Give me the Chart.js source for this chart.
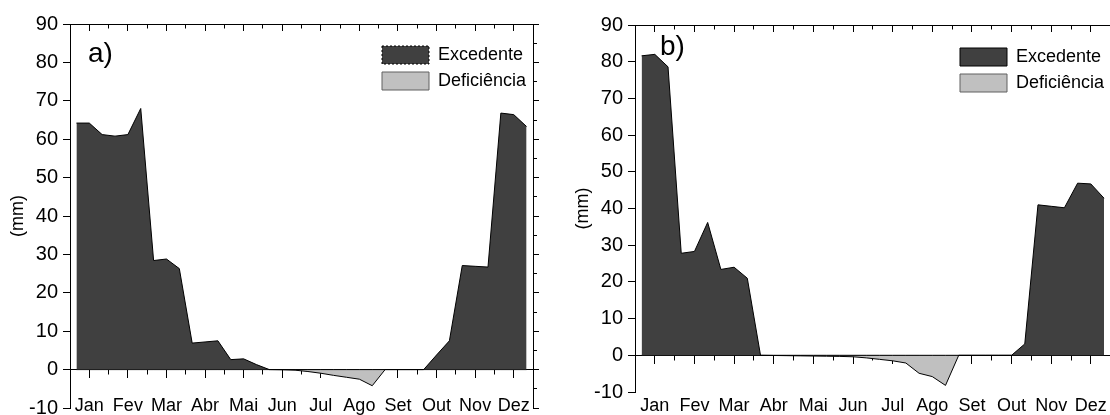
<!DOCTYPE html>
<html>
<head>
<meta charset="utf-8">
<script src="https://cdn.jsdelivr.net/npm/chart.js@4.4.1/dist/chart.umd.min.js"></script>
<style>
  html, body { margin: 0; padding: 0; background: #fff; overflow: hidden; }
  #wrap { position: relative; width: 1110px; height: 415px; overflow: hidden; }
  .panel { position: absolute; top: 0; height: 415px; }
  #pa { left: 0; width: 560px; }
  #pb { left: 560px; width: 580px; }
</style>
</head>
<body>
<div id="wrap">
  <div class="panel" id="pa"><canvas id="chart-a"></canvas></div>
  <div class="panel" id="pb"><canvas id="chart-b"></canvas></div>
</div>
<script>
// months, 3 decendios (10-day periods) each -> 36 points
var MONTHS = ['Jan', 'Fev', 'Mar', 'Abr', 'Mai', 'Jun', 'Jul', 'Ago', 'Set', 'Out', 'Nov', 'Dez'];

// a)
var EXCEDENTE_A = [64.2, 64.2, 61.2, 60.8, 61.2, 68.0, 28.4, 28.8, 26.3, 6.9, 7.2, 7.5,
                   2.6, 2.8, 1.3, 0, 0, 0, 0, 0, 0, 0, 0, 0,
                   0, 0, 0, 0, 3.8, 7.5, 27.1, 26.9, 26.7, 66.8, 66.4, 63.3];
var DEFICIENCIA_A = [0, 0, 0, 0, 0, 0, 0, 0, 0, 0, 0, 0,
                     0, 0, 0, 0, -0.05, -0.15, -0.5, -0.95, -1.5, -2.0, -2.5, -4.2,
                     0, 0, 0, 0, 0, 0, 0, 0, 0, 0, 0, 0];

// b)
var EXCEDENTE_B = [81.6, 82.0, 78.6, 27.8, 28.3, 36.2, 23.4, 24.0, 21.0, 0, 0, 0,
                   0, 0, 0, 0, 0, 0, 0, 0, 0, 0, 0, 0,
                   0, 0, 0, 0, 0, 3.1, 41.0, 40.6, 40.2, 46.9, 46.7, 42.8];
var DEFICIENCIA_B = [0, 0, 0, 0, 0, 0, 0, 0, 0, 0, -0.05, -0.1,
                     -0.15, -0.2, -0.25, -0.3, -0.4, -0.7, -1.1, -1.5, -2.1, -4.9, -5.8, -8.2,
                     0, 0, 0, 0, 0, 0, 0, 0, 0, 0, 0, 0];

var Y_MIN = -10, Y_MAX = 90;

Chart.defaults.font.family = '"Liberation Sans", Arial, Helvetica, sans-serif';
Chart.defaults.color = '#000';

function toPoints(arr) {
  return arr.map(function (v, i) { return { x: i, y: v }; });
}

// month ticks at the middle decendio, minor ticks between months
function monthTicks(scale) {
  var t = [];
  for (var i = 0; i < 12; i++) {
    t.push({ value: 3 * i + 1 });
    if (i < 11) t.push({ value: 3 * i + 2.5 });
  }
  scale.ticks = t;
}
function isMajorX(v) { return (v - 1) % 3 === 0; }

// put the "a)" / "b)" tag inside the plot
var panelLabel = {
  id: 'panelLabel',
  afterDatasetsDraw: function (chart, args, o) {
    var ctx = chart.ctx, a = chart.chartArea;
    ctx.save();
    ctx.font = '28px "Liberation Sans", Arial, sans-serif';
    ctx.fillStyle = '#000';
    ctx.textBaseline = 'alphabetic';
    ctx.fillText(o.text, a.left + o.dx, a.top + o.dy);
    ctx.restore();
  }
};

// legend lives inside the plot, top right
var legendPlace = {
  id: 'legendPlace',
  afterLayout: function (chart, args, o) {
    var lg = chart.legend;
    if (!lg) return;
    lg.left = o.x; lg.right = o.x + lg.width;
    lg.top = o.y; lg.bottom = o.y + lg.height;
  }
};

function makeChart(id, exc, def, cfg) {
  return new Chart(document.getElementById(id), {
    type: 'line',
    data: {
      datasets: [{
        label: 'Excedente',
        data: toPoints(exc),
        fill: 'origin',
        backgroundColor: '#404040',
        borderColor: '#000',
        borderWidth: 1,
        pointRadius: 0,
        tension: 0
      }, {
        label: 'Deficiência',
        data: toPoints(def),
        fill: 'origin',
        backgroundColor: '#c0c0c0',
        borderColor: '#000',
        borderWidth: 1,
        pointRadius: 0,
        tension: 0
      }]
    },
    plugins: [panelLabel, legendPlace],
    options: {
      responsive: true,
      maintainAspectRatio: false,
      animation: false,
      devicePixelRatio: 1,
      layout: { padding: { top: cfg.padTop, bottom: cfg.padBottom, left: 0, right: 0 } },
      plugins: {
        tooltip: { enabled: false },
        panelLabel: { text: cfg.tag, dx: cfg.tagDx, dy: cfg.tagDy },
        legendPlace: { x: cfg.legendX, y: cfg.legendY },
        legend: {
          position: 'chartArea',
          align: 'start',
          labels: {
            boxWidth: 47,
            boxHeight: 18,
            padding: 8,
            color: '#000',
            font: { size: 18 },
            generateLabels: function (chart) {
              var items = Chart.defaults.plugins.legend.labels.generateLabels(chart);
              items[0].lineDash = cfg.dashedBox ? [2, 2] : [];
              items[1].strokeStyle = '#606060';
              return items;
            }
          }
        }
      },
      scales: {
        x: {
          type: 'linear', axis: 'x',
          min: -0.5, max: 35.5,
          position: { y: 0 },
          afterBuildTicks: monthTicks,
          border: { color: '#000', width: 1 },
          grid: {
            drawOnChartArea: false, color: '#000', tickLength: 8,
            tickBorderDash: function (c) { return isMajorX(c.tick.value) ? [] : [4.5, 40]; }
          },
          ticks: {
            autoSkip: false, maxRotation: 0, padding: cfg.xPad,
            font: { size: 18 },
            callback: function (v) { return isMajorX(v) ? MONTHS[(v - 1) / 3] : ''; }
          }
        },
        xTop: {
          type: 'linear', axis: 'x',
          min: -0.5, max: 35.5,
          position: { y: Y_MAX },
          afterBuildTicks: monthTicks,
          border: { color: '#000', width: 1 },
          grid: {
            drawOnChartArea: false, color: '#000', tickLength: 6,
            tickBorderDash: function (c) { return isMajorX(c.tick.value) ? [] : [3.5, 40]; }
          },
          ticks: { display: false }
        },
        y: {
          type: 'linear', position: 'left',
          min: Y_MIN, max: Y_MAX,
          afterFit: function (s) { s.width = cfg.leftW; s.paddingTop = 0; s.paddingBottom = 0; },
          border: { color: '#000', width: 1 },
          grid: {
            drawOnChartArea: false, color: '#000', tickLength: 7,
            tickBorderDash: function (c) { return c.tick.value % 10 === 0 ? [] : [3.5, 40]; }
          },
          ticks: {
            stepSize: 5, padding: 5,
            font: { size: 20 },
            callback: function (v) { return v % 10 === 0 ? String(v) : ''; }
          },
          title: {
            display: true, text: '(mm)',
            font: { size: 18 },
            padding: { top: cfg.titlePad, bottom: 0 }
          }
        },
        yRight: {
          type: 'linear', position: 'right',
          min: Y_MIN, max: Y_MAX,
          afterFit: function (s) { s.width = cfg.rightW; s.paddingTop = 0; s.paddingBottom = 0; },
          border: { color: '#000', width: 1 },
          grid: {
            drawOnChartArea: false, color: '#000', tickLength: 6,
            tickBorderDash: function (c) { return c.tick.value % 10 === 0 ? [] : [3, 40]; }
          },
          ticks: { display: false, stepSize: 5 }
        }
      }
    }
  });
}

makeChart('chart-a', EXCEDENTE_A, DEFICIENCIA_A, {
  leftW: 70, rightW: 27, padTop: 24, padBottom: 7,
  tag: 'a)', tagDx: 18, tagDy: 38,
  legendX: 374, legendY: 38, dashedBox: true,
  xPad: 18, titlePad: 7
});

makeChart('chart-b', EXCEDENTE_B, DEFICIENCIA_B, {
  leftW: 75, rightW: 28, padTop: 25, padBottom: 23,
  tag: 'b)', tagDx: 25, tagDy: 30,
  legendX: 392, legendY: 40, dashedBox: false,
  xPad: 32, titlePad: 12
});
</script>
</body>
</html>
